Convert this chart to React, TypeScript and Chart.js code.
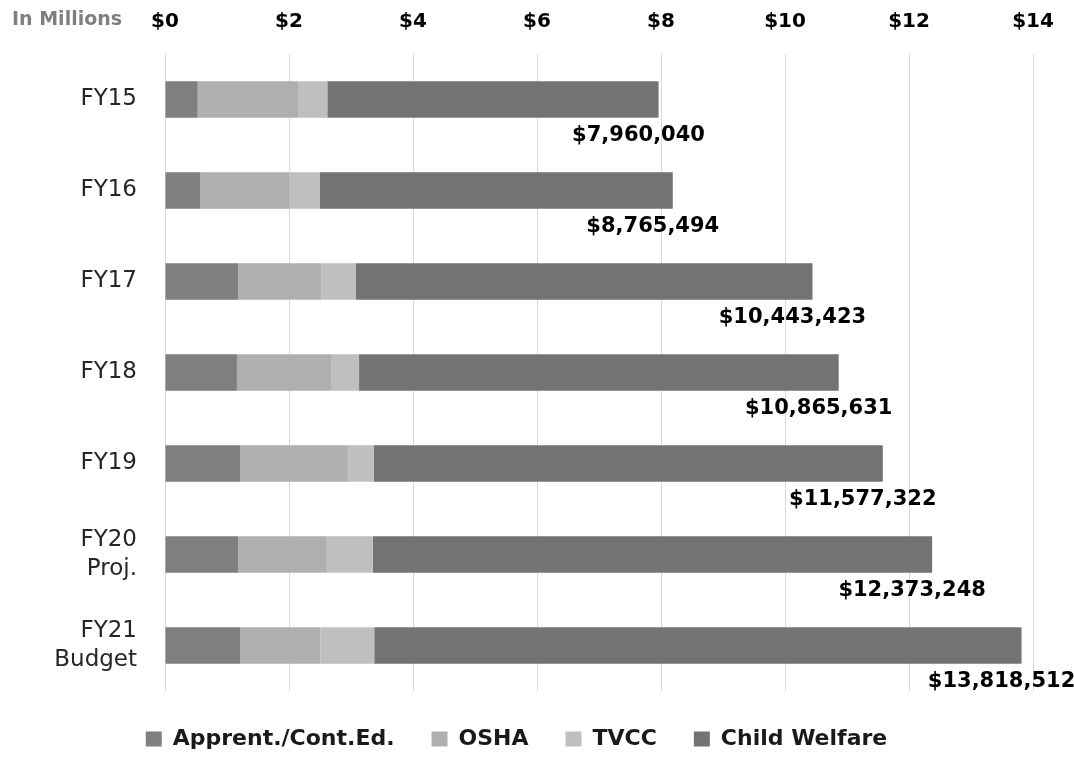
import React, { useEffect, useRef } from "react";
import { Chart, registerables } from "chart.js";

Chart.register(...registerables);

const categories = [["FY15"], ["FY16"], ["FY17"], ["FY18"], ["FY19"], ["FY20", "Proj."], ["FY21", "Budget"]];
const apprent = [0.527, 0.57, 1.18, 1.16, 1.21, 1.18, 1.21];
const osha = [1.618, 1.43, 1.34, 1.53, 1.74, 1.43, 1.295];
const tvcc = [0.473, 0.5, 0.56, 0.44, 0.42, 0.74, 0.87];
const childWelfare = [5.342, 5.69, 7.363, 7.736, 8.207, 9.023, 10.44];
const totalLabels = ["$7,960,040", "$8,765,494", "$10,443,423", "$10,865,631", "$11,577,322", "$12,373,248", "$13,818,512"];
const seriesNames = ["Apprent./Cont.Ed.", "OSHA", "TVCC", "Child Welfare"];
const seriesColors = ["#7f7f7f", "#afafaf", "#bfbfbf", "#737373"];
const axisMin = 0;
const axisMax = 14;
const axisStep = 2;
const unitNote = "In Millions";

const FONT = "'DejaVu Sans', sans-serif";

export default function App() {
  const canvasRef = useRef<HTMLCanvasElement | null>(null);

  useEffect(() => {
    const canvas = canvasRef.current;
    if (!canvas) return;
    const seriesValues = [apprent, osha, tvcc, childWelfare];

    const totalsPlugin = {
      id: "totalsPlugin",
      afterDatasetsDraw(chart: any) {
        const ctx = chart.ctx;
        const xs = chart.scales.x;
        const ys = chart.scales.y;
        ctx.save();
        ctx.font = `bold 21px ${FONT}`;
        ctx.fillStyle = "#000000";
        ctx.textAlign = "center";
        ctx.textBaseline = "middle";
        categories.forEach((_, i) => {
          let sum = 0;
          chart.data.datasets.forEach((ds: any) => (sum += ds.data[i]));
          const x = xs.getPixelForValue(sum) - 20;
          const y = ys.getPixelForValue(i) + 36;
          ctx.fillText(totalLabels[i], x, y);
        });
        ctx.restore();
      },
      afterDraw(chart: any) {
        const ctx = chart.ctx;
        ctx.save();
        ctx.font = `bold 19px ${FONT}`;
        ctx.fillStyle = "#7f7f7f";
        ctx.textAlign = "left";
        ctx.textBaseline = "middle";
        ctx.fillText(unitNote, 12, 20);
        ctx.restore();
      },
    };

    const chart = new Chart(canvas, {
      type: "bar",
      data: {
        labels: categories as any,
        datasets: seriesNames.map((name, k) => ({
          label: name,
          data: seriesValues[k],
          backgroundColor: seriesColors[k],
          borderWidth: 0,
          barPercentage: 0.4,
          categoryPercentage: 1,
        })),
      },
      options: {
        indexAxis: "y",
        responsive: false,
        animation: false,
        layout: { padding: { left: 0, right: 41, top: 0, bottom: -3 } },
        scales: {
          x: {
            position: "top",
            stacked: true,
            min: axisMin,
            max: axisMax,
            ticks: {
              stepSize: axisStep,
              padding: 20,
              color: "#000000",
              font: { family: FONT, size: 20, weight: "bold" },
              callback: (v: any) => "$" + v,
            },
            grid: { color: "#d9d9d9", lineWidth: 1, drawTicks: false },
            border: { display: false },
            afterFit: (scale: any) => {
              scale.height = 54;
            },
          },
          y: {
            stacked: true,
            ticks: {
              padding: 28,
              color: "#262626",
              font: { family: FONT, size: 23, lineHeight: 1.3 },
            },
            grid: { display: false, drawTicks: false },
            border: { display: false },
            afterFit: (scale: any) => {
              scale.width = 165;
              scale.paddingTop = 0;
              scale.paddingBottom = 0;
            },
          },
        },
        plugins: {
          legend: {
            position: "bottom",
            labels: {
              boxWidth: 16,
              boxHeight: 15,
              padding: 37,
              color: "#1a1a1a",
              font: { family: FONT, size: 22, weight: "bold" },
            },
          },
          tooltip: { enabled: false },
        },
      } as any,
      plugins: [totalsPlugin],
    });

    return () => chart.destroy();
  }, []);

  return (
    <div style={{ position: "absolute", left: 0, top: 0, width: 1074, height: 757, background: "#ffffff" }}>
      <canvas ref={canvasRef} width={1074} height={757} />
    </div>
  );
}
